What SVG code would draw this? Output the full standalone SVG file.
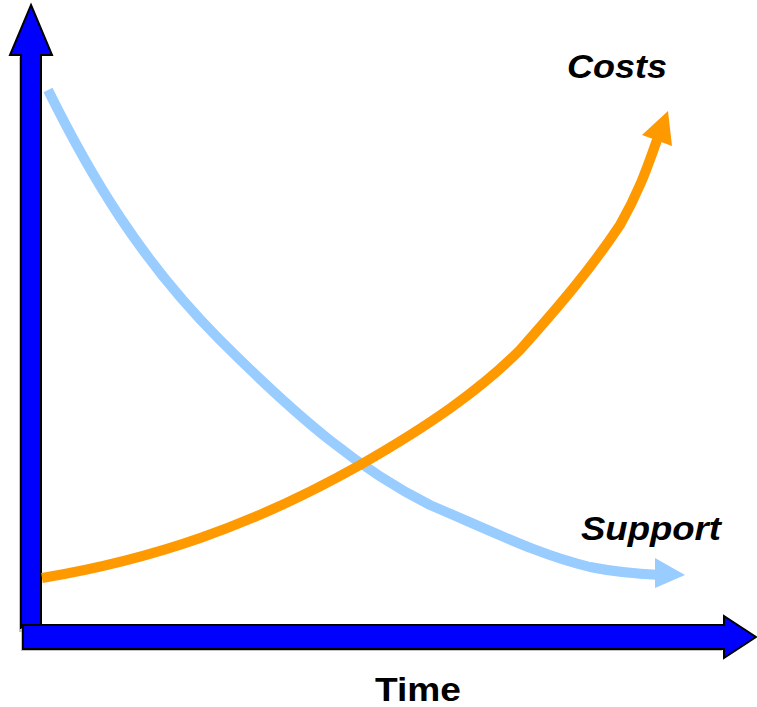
<svg xmlns="http://www.w3.org/2000/svg" width="757" height="707" viewBox="0 0 757 707">
<style>
.axis{fill:#0000FF;stroke:#000;stroke-width:2;stroke-linejoin:miter}
.shadow{fill:#999;opacity:0.6}
.lbl{font-family:"Liberation Sans",Arial,sans-serif;font-weight:bold;font-size:34px;fill:#000}
.costs{fill:none;stroke:#FF9900;stroke-width:10}
.support{fill:none;stroke:#99CCFF;stroke-width:10}
</style>
<rect width="757" height="707" fill="#fff"/>
<g id="y-axis">
<polygon class="shadow" points="19,57 19,632 39,632 39,57"/>
<polygon class="axis" points="31,5 52,55 41,55 41,628 21,628 21,55 10,55"/>
</g>
<g id="x-axis">
<polygon class="shadow" points="21,628 21,651 722,651 722,628"/>
<polygon class="axis" points="23,625 724,625 724,616 756,637 724,658 724,649 23,649"/>
</g>
<g id="connectors">
<path class="support" d="M48,90 C90,175 140,260 220,340 C300,420 360,470 430,505 C500,535 540,555 590,567 C620,573 640,574 660,575"/>
<polygon fill="#99CCFF" points="685,575 655,558 655,588"/>
<path class="costs" d="M42,578 C150,560 250,527 360,465 C430,425 480,390 520,350 C560,305 590,270 620,225 C640,190 648,165 657,140"/>
<polygon fill="#FF9900" points="668,111 642,135 672,146"/>
</g>
<g id="label-costs"><text class="lbl" x="567" y="78" font-style="italic" textLength="100" lengthAdjust="spacingAndGlyphs">Costs</text></g>
<g id="label-support"><text class="lbl" x="581" y="540" font-style="italic" textLength="140" lengthAdjust="spacingAndGlyphs">Support</text></g>
<g id="label-time"><text class="lbl" x="375" y="701" textLength="86" lengthAdjust="spacingAndGlyphs">Time</text></g>
</svg>
